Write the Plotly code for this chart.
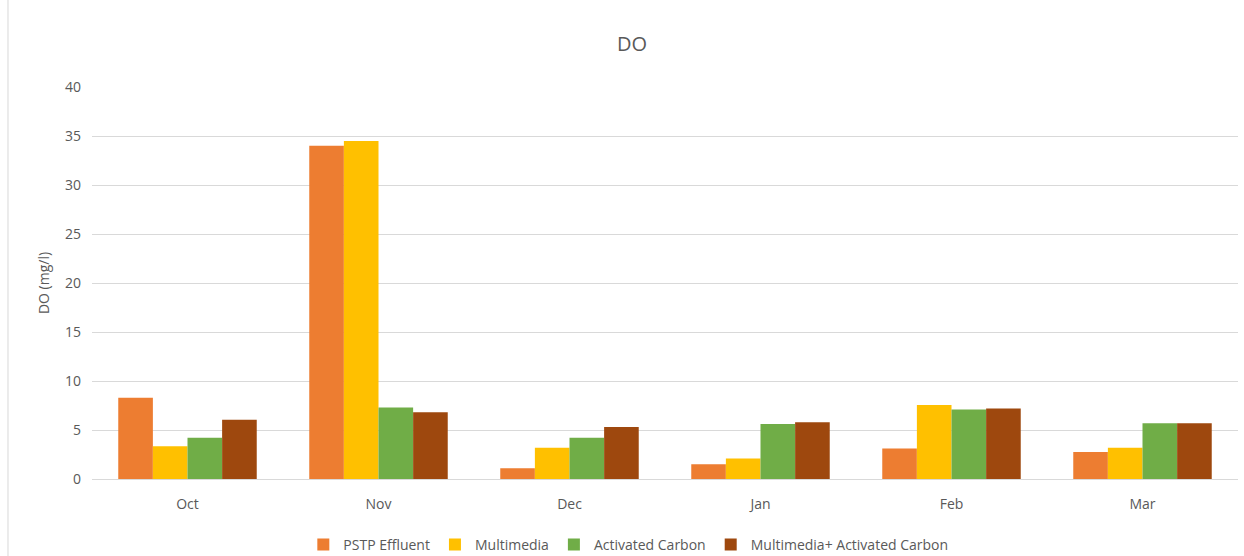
import plotly.graph_objects as go

# Monthly dissolved oxygen readings (mg/l) for each treatment stage
months = ["Oct", "Nov", "Dec", "Jan", "Feb", "Mar"]
pstp_effluent = [8.3, 34.0, 1.1, 1.5, 3.1, 2.75]
multimedia = [3.35, 34.5, 3.2, 2.1, 7.55, 3.2]
activated_carbon = [4.2, 7.3, 4.2, 5.6, 7.1, 5.7]
multimedia_activated_carbon = [6.05, 6.8, 5.3, 5.8, 7.2, 5.7]

y_ticks = [0, 5, 10, 15, 20, 25, 30, 35, 40]

series = [
    ("PSTP Effluent", pstp_effluent, "#ED7D31"),
    ("Multimedia", multimedia, "#FFC000"),
    ("Activated Carbon", activated_carbon, "#70AD47"),
    ("Multimedia+ Activated Carbon", multimedia_activated_carbon, "#9E480E"),
]

fig = go.Figure()
for name, vals, color in series:
    fig.add_trace(go.Bar(
        x=months, y=vals, name=name,
        marker=dict(color=color, line=dict(width=0)),
    ))

font_family = "Open Sans, Liberation Sans, sans-serif"
grey = "#595959"

fig.update_layout(
    width=1244, height=556,
    margin=dict(l=92, r=6, t=87, b=77, autoexpand=False),
    paper_bgcolor="white", plot_bgcolor="white",
    barmode="group", bargap=0.275, bargroupgap=0,
    font=dict(family=font_family, color=grey, size=13),
    title=dict(text="DO", x=0.508, xanchor="center", y=0.92, yanchor="middle",
               font=dict(size=20, color=grey, family=font_family)),
    xaxis=dict(showgrid=False, showline=True, linecolor="#D9D9D9", linewidth=1,
               automargin=False, ticks="", ticklabelstandoff=12,
               tickfont=dict(size=14, color=grey)),
    yaxis=dict(range=[0, 40], tickvals=y_ticks, showgrid=True, gridcolor="#D9D9D9",
               gridwidth=1, zeroline=False, ticks="", ticklen=0, ticklabelstandoff=10,
               automargin=False, tickfont=dict(size=14, color=grey),
               title=dict(text="DO (mg/l)", font=dict(size=14, color=grey), standoff=12)),
    legend=dict(orientation="h", x=0.468, xanchor="center",
                yref="container", y=0.02, yanchor="middle",
                font=dict(size=14, color=grey), itemwidth=30, traceorder="normal"),
    shapes=[dict(type="line", xref="paper", yref="paper",
                 x0=-0.0733, x1=-0.0733, y0=-0.2, y1=1.23,
                 line=dict(color="#D9D9D9", width=1))],
)

fig.write_html("out.html")
